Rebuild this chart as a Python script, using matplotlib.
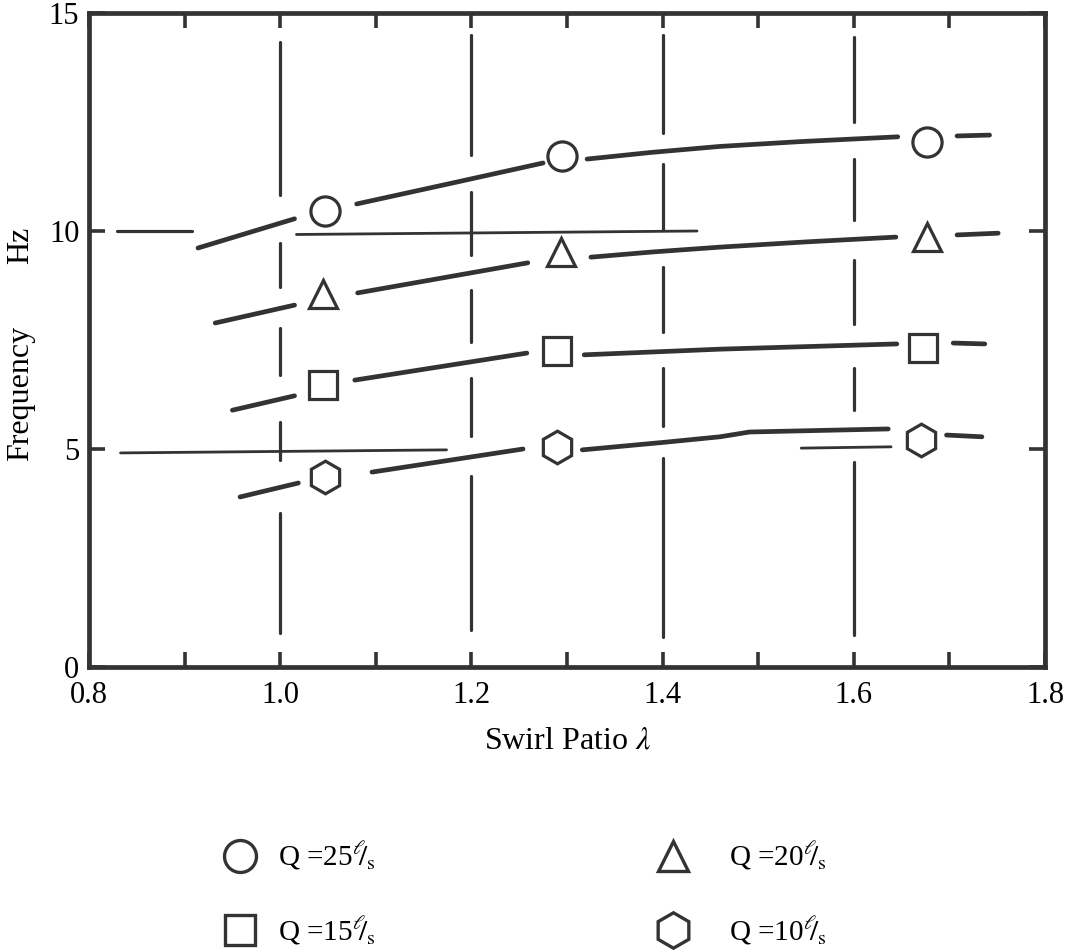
import matplotlib
matplotlib.use('Agg')
import matplotlib.pyplot as plt
from matplotlib.lines import Line2D
import numpy as np

plt.rcParams['font.family'] = ['Liberation Serif', 'DejaVu Serif']
plt.rcParams['mathtext.fontset'] = 'stix'
plt.rcParams['lines.scale_dashes'] = False

INK = '#333333'
PX = 0.72  # points per pixel at 100 dpi

# measured points: swirl ratio (x) and frequency in Hz (y)
q25_x = [1.047, 1.295, 1.677]
q25_y = [10.46, 11.72, 12.04]
q20_x = [1.045, 1.294, 1.677]
q20_y = [8.56, 9.52, 9.86]
q15_x = [1.045, 1.290, 1.672]
q15_y = [6.47, 7.25, 7.32]
q10_x = [1.047, 1.290, 1.670]
q10_y = [4.36, 5.05, 5.21]

# hand drawn trend lines, broken around the markers
q25_lines = [([0.914, 1.015], [9.61, 10.28]),
             ([1.080, 1.180, 1.275], [10.62, 11.10, 11.56]),
             ([1.321, 1.387, 1.460, 1.544, 1.646], [11.65, 11.80, 11.94, 12.05, 12.16]),
             ([1.708, 1.742], [12.18, 12.20])]
q20_lines = [([0.932, 1.015], [7.89, 8.30]),
             ([1.081, 1.259], [8.58, 9.27]),
             ([1.325, 1.390, 1.460, 1.550, 1.644], [9.40, 9.52, 9.63, 9.75, 9.86]),
             ([1.708, 1.751], [9.91, 9.95])]
q15_lines = [([0.950, 1.015], [5.89, 6.22]),
             ([1.078, 1.258], [6.58, 7.20]),
             ([1.318, 1.460, 1.645], [7.16, 7.29, 7.41]),
             ([1.704, 1.737], [7.43, 7.41])]
q10_lines = [([0.958, 1.019], [3.90, 4.22]),
             ([1.096, 1.254], [4.47, 5.00]),
             ([1.316, 1.400, 1.460, 1.491, 1.636], [4.98, 5.15, 5.28, 5.39, 5.46]),
             ([1.697, 1.734], [5.32, 5.28])]

# thin reference lines near 10 Hz and 5 Hz
ref_lines = [([1.017, 1.436], [9.92, 10.0]),
             ([0.833, 1.174], [4.91, 4.98]),
             ([1.545, 1.639], [5.02, 5.05])]

labels = ['Q =25', 'Q =20', 'Q =15', 'Q =10']
unit = r'$^{\ell}\!\!/_{\mathrm{s}}$'

# broken grid: [gap, on, gap, on, ..., gap] in pixels from the top / left
grid_x = [1.0, 1.2, 1.4, 1.6]
grid_dash = [[29, 153, 48, 44, 41, 47, 47, 38, 53, 120, 34],
             [22, 120, 37, 63, 35, 52, 36, 58, 40, 154, 37],
             [22, 98, 31, 66, 37, 65, 36, 58, 32, 179, 30],
             [24, 85, 37, 61, 40, 64, 44, 42, 52, 173, 32]]
grid_h_dash = [28, 75, 853]


def dash_from(pattern):
    seq = pattern[1:-1] + [pattern[-1] + pattern[0]]
    offset = (sum(seq) - pattern[0]) * PX
    return (offset, [v * PX for v in seq])


fig = plt.figure(figsize=(10.75, 9.51), dpi=100)
ax = fig.add_axes([89 / 1075, 1 - 667 / 951, (1045 - 89) / 1075, (667 - 13) / 951])

for gx, pat in zip(grid_x, grid_dash):
    ax.plot([gx, gx], [15, 0], color=INK, lw=2.3, linestyle=dash_from(pat),
            dash_capstyle='round', zorder=1)
ax.plot([0.8, 1.8], [10, 10], color=INK, lw=2.3, linestyle=dash_from(grid_h_dash),
        dash_capstyle='round', zorder=1)

for xs, ys in ref_lines:
    ax.plot(xs, ys, color=INK, lw=2.0, solid_capstyle='round', zorder=2)

series = [(q25_x, q25_y, q25_lines, 'o', 21),
          (q20_x, q20_y, q20_lines, '^', 20),
          (q15_x, q15_y, q15_lines, 's', 20),
          (q10_x, q10_y, q10_lines, 'h', 23.5)]
for xs, ys, segs, mk, ms in series:
    for sx, sy in segs:
        ax.plot(sx, sy, color=INK, lw=3.4, solid_capstyle='round', zorder=3)
    ax.plot(xs, ys, linestyle='none', marker=mk, ms=ms, mfc='white',
            mec=INK, mew=2.3, zorder=4)

ax.set_xlim(0.8, 1.8)
ax.set_ylim(0, 15)
ax.set_xticks(np.arange(0.8, 1.81, 0.2))
ax.set_xticklabels(['%.1f' % v for v in np.arange(0.8, 1.81, 0.2)])
ax.set_xticks(np.arange(0.9, 1.75, 0.2), minor=True)
ax.set_yticks([0, 5, 10, 15])
ax.tick_params(axis='x', which='both', direction='in', length=15 * PX, width=2.6,
               top=True, bottom=True, color=INK, labelsize=22, pad=10)
ax.tick_params(axis='y', which='both', direction='in', length=16 * PX, width=2.6,
               left=True, right=True, color=INK, labelsize=22, pad=7)
for s in ax.spines.values():
    s.set_linewidth(3.4)
    s.set_color(INK)

ax.set_xlabel(r'Swirl Patio $\lambda$', fontsize=23, labelpad=12)
fig.text(21 / 1075, 1 - 393 / 951, 'Frequency', rotation=90, ha='center',
         va='center', fontsize=23)
fig.text(21 / 1075, 1 - 245 / 951, 'Hz', rotation=90, ha='center',
         va='center', fontsize=23)

handles = [Line2D([], [], linestyle='none', marker=mk, ms=ms + 2, mfc='white',
                  mec=INK, mew=2.4) for _, _, _, mk, ms in series]
# left column: 25 and 15, right column: 20 and 10
fig.legend([handles[0], handles[2]], [labels[0] + unit, labels[2] + unit],
           loc='upper left', bbox_to_anchor=(225 / 1075, 1 - 840 / 951),
           frameon=False, fontsize=21, handlelength=1.0, handletextpad=0.8,
           labelspacing=1.45, borderpad=0, borderaxespad=0)
fig.legend([handles[1], handles[3]], [labels[1] + unit, labels[3] + unit],
           loc='upper left', bbox_to_anchor=(658 / 1075, 1 - 840 / 951),
           frameon=False, fontsize=21, handlelength=1.0, handletextpad=1.45,
           labelspacing=1.45, borderpad=0, borderaxespad=0)

fig.savefig('out.png', dpi=100)
